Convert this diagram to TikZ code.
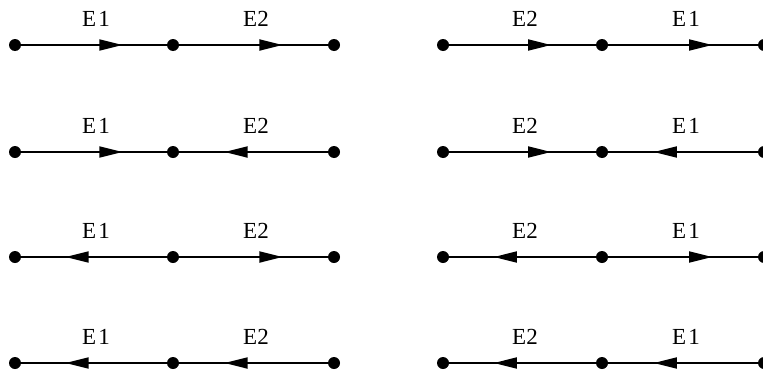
\documentclass[tikz,border=0pt]{standalone}
\usepackage{fontspec}
\setmainfont{Liberation Serif}
\usetikzlibrary{arrows.meta,decorations.markings}
\tikzset{
  vertex/.style={circle,fill=black,inner sep=0pt,minimum size=12pt},
  elabel/.style={font=\fontsize{23}{26}\selectfont,inner sep=0pt},
  edge/.style={line width=1.8pt,
    postaction={decorate,decoration={markings,
      mark=at position 0.68 with {\arrow{Triangle[length=23pt,width=11pt]}}}}}
}
\begin{document}
\begin{tikzpicture}[x=1pt,y=-1pt]
\useasboundingbox (0,0) rectangle (763,375);
% columns and rows
\def\xa{15}\def\xb{173}\def\xc{334}
\def\xd{443}\def\xe{602}\def\xf{764}
\foreach \r/\y in {1/45, 2/152, 3/257, 4/363}{
  \node[vertex] (a\r) at (\xa,\y) {};
  \node[vertex] (b\r) at (\xb,\y) {};
  \node[vertex] (c\r) at (\xc,\y) {};
  \node[vertex] (d\r) at (\xd,\y) {};
  \node[vertex] (e\r) at (\xe,\y) {};
  \node[vertex] (f\r) at (\xf,\y) {};
  \node[elabel] (la\r) at (96,\y-26) {E\kern2pt1};
  \node[elabel] (lb\r) at (256,\y-26) {E2};
  \node[elabel] (lc\r) at (525,\y-26) {E2};
  \node[elabel] (ld\r) at (686,\y-26) {E\kern2pt1};
}
% row 1: all forward
\draw[edge] (a1.center) -- (b1.center);
\draw[edge] (b1.center) -- (c1.center);
\draw[edge] (d1.center) -- (e1.center);
\draw[edge] (e1.center) -- (f1.center);
% row 2: forward, backward
\draw[edge] (a2.center) -- (b2.center);
\draw[edge] (c2.center) -- (b2.center);
\draw[edge] (d2.center) -- (e2.center);
\draw[edge] (f2.center) -- (e2.center);
% row 3: backward, forward
\draw[edge] (b3.center) -- (a3.center);
\draw[edge] (b3.center) -- (c3.center);
\draw[edge] (e3.center) -- (d3.center);
\draw[edge] (e3.center) -- (f3.center);
% row 4: all backward
\draw[edge] (b4.center) -- (a4.center);
\draw[edge] (c4.center) -- (b4.center);
\draw[edge] (e4.center) -- (d4.center);
\draw[edge] (f4.center) -- (e4.center);
\end{tikzpicture}
\end{document}
